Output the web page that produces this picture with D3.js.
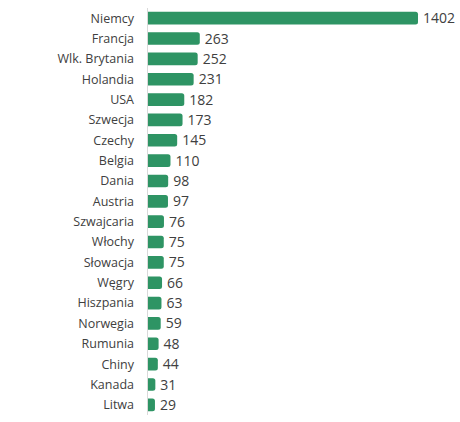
<!DOCTYPE html>
<html>
<head>
<meta charset="utf-8">
<script src="https://cdn.jsdelivr.net/npm/d3@7"></script>
<style>
  body { margin: 0; background: #fff; }
  text { font-family: "Open Sans", sans-serif; fill: #404040; }
</style>
</head>
<body>
<div id="chart"></div>
<script>
var countries = ["Niemcy", "Francja", "Wlk. Brytania", "Holandia", "USA", "Szwecja", "Czechy", "Belgia", "Dania", "Austria",
                 "Szwajcaria", "Włochy", "Słowacja", "Węgry", "Hiszpania", "Norwegia", "Rumunia", "Chiny", "Kanada", "Litwa"];
var values = [1402, 263, 252, 231, 182, 173, 145, 110, 98, 97, 76, 75, 75, 66, 63, 59, 48, 44, 31, 29];

var width = 460, height = 422;
var x0 = 147.5;

var svg = d3.select("#chart").append("svg")
    .attr("width", width)
    .attr("height", height);

var x = d3.scaleLinear()
    .domain([0, 1402])
    .range([149.4, 418]);

var y = d3.scaleBand()
    .domain(countries)
    .range([8, 415])
    .paddingInner(0.38)
    .paddingOuter(0.19);

var bh = y.bandwidth();
var r = 2.5;

// bars, right end slightly rounded
svg.selectAll(".bar")
    .data(values)
    .enter().append("path")
    .attr("class", "bar")
    .attr("fill", "#2e9464")
    .attr("d", function(d, i) {
        var top = y(countries[i]), xe = x(d);
        return "M" + x0 + "," + top +
               "H" + (xe - r) +
               "Q" + xe + "," + top + " " + xe + "," + (top + r) +
               "V" + (top + bh - r) +
               "Q" + xe + "," + (top + bh) + " " + (xe - r) + "," + (top + bh) +
               "H" + x0 + "Z";
    });

// axis line
svg.append("line")
    .attr("x1", x0).attr("x2", x0)
    .attr("y1", 8).attr("y2", 415)
    .attr("stroke", "#d9d9d9")
    .attr("stroke-width", 1);

// category labels
svg.selectAll(".cat")
    .data(countries)
    .enter().append("text")
    .attr("class", "cat")
    .attr("x", 134)
    .attr("y", function(d) { return y(d) + bh / 2; })
    .attr("dy", "0.35em")
    .attr("text-anchor", "end")
    .style("font-size", "12.5px")
    .text(function(d) { return d; });

// value labels
svg.selectAll(".val")
    .data(values)
    .enter().append("text")
    .attr("class", "val")
    .attr("x", function(d) { return x(d) + 5; })
    .attr("y", function(d, i) { return y(countries[i]) + bh / 2; })
    .attr("dy", "0.36em")
    .style("font-size", "14px")
    .text(function(d) { return d; });
</script>
</body>
</html>
